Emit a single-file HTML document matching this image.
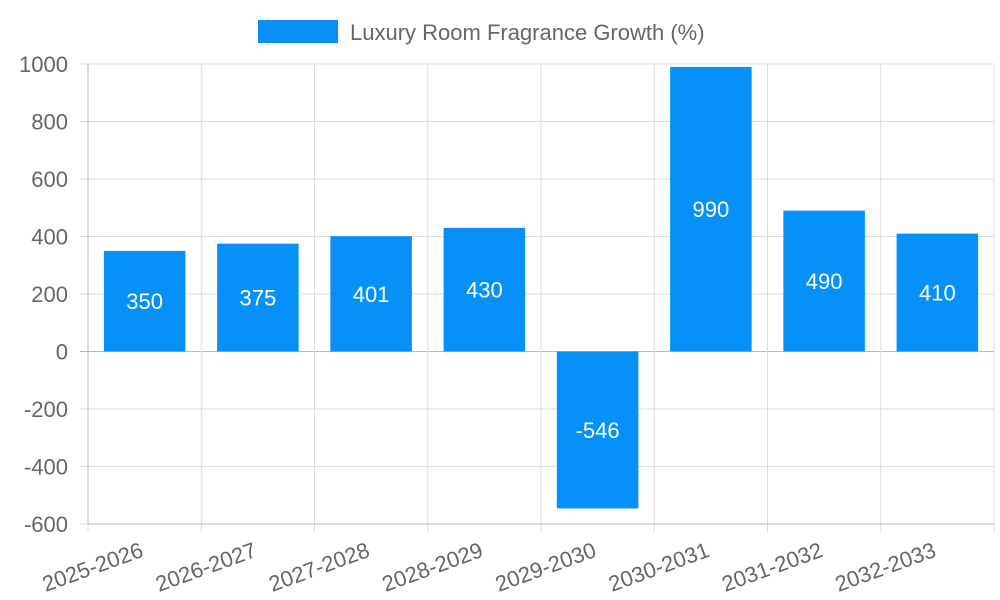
<!DOCTYPE html>
<html><head><meta charset="utf-8"><style>
body{margin:0;background:#fff;}
svg{display:block;font-family:"Liberation Sans",sans-serif;}
</style></head><body>
<svg id="chart" width="1000" height="600">
<g id="grid"></g>
<g id="bars"></g>
<g id="axes"></g>
<g>
<rect x="258" y="20" width="80" height="23" fill="#0590fa"></rect>
<text x="350" y="40" font-size="22" fill="#666">Luxury Room Fragrance Growth (%)</text>
</g>
</svg>
<script>
const categories=["2025-2026","2026-2027","2027-2028","2028-2029","2029-2030","2030-2031","2031-2032","2032-2033"];
const values=[350,375,401,430,-546,990,490,410];
const yTicks=[1000,800,600,400,200,0,-200,-400,-600];
const NS="http://www.w3.org/2000/svg";
const L=88,R=994,T=64,B=524,yMax=1000,yMin=-600;
const y=v=>T+(yMax-v)/(yMax-yMin)*(B-T);
const cw=(R-L)/categories.length;
const x=i=>L+i*cw;
function mk(p,tag,a){const e=document.createElementNS(NS,tag);for(const k in a)e.setAttribute(k,a[k]);p.appendChild(e);return e;}
const grid=document.getElementById('grid'),bars=document.getElementById('bars'),axes=document.getElementById('axes');
yTicks.forEach(t=>{
 const ln=mk(grid,'line',{x1:L-8,x2:R,y1:y(t),y2:y(t),stroke:t===0?'#bbb':'#ddd','stroke-width':1});
 
 
 const tx=mk(axes,'text',{x:L-20,y:y(t)+8,'text-anchor':'end','font-size':22,fill:'#666'});
 tx.textContent=t;
 
 
});
for(let i=0;i<=categories.length;i++){
 const ln=mk(grid,'line',{x1:x(i),x2:x(i),y1:T,y2:B+8,stroke:'#ddd','stroke-width':1});
 
 
}
mk(axes,'line',{x1:L,x2:L,y1:T,y2:B,stroke:'#bbb'});
mk(axes,'line',{x1:L,x2:R,y1:B,y2:B,stroke:'#bbb'});
categories.forEach((c,i)=>{
 const v=values[i],bw=cw*0.72,bx=x(i)+(cw-bw)/2;
 const top=Math.min(y(v),y(0)),h=Math.abs(y(v)-y(0));
 const r=mk(bars,'rect',{x:bx,y:top,width:bw,height:h,fill:'#0590fa'});
 
 
 const vt=mk(bars,'text',{x:bx+bw/2,y:top+h/2+8,'text-anchor':'middle','font-size':22,fill:'#fff'});
 vt.textContent=v;
 
 
 const cx=x(i)+cw/2+0,cy=B+32;
 const lt=mk(axes,'text',{x:cx,y:cy,'text-anchor':'end','font-size':22,fill:'#666',transform:`rotate(-20 ${cx} ${cy})`});
 lt.textContent=c;
 
 
});
</script>
</body></html>
